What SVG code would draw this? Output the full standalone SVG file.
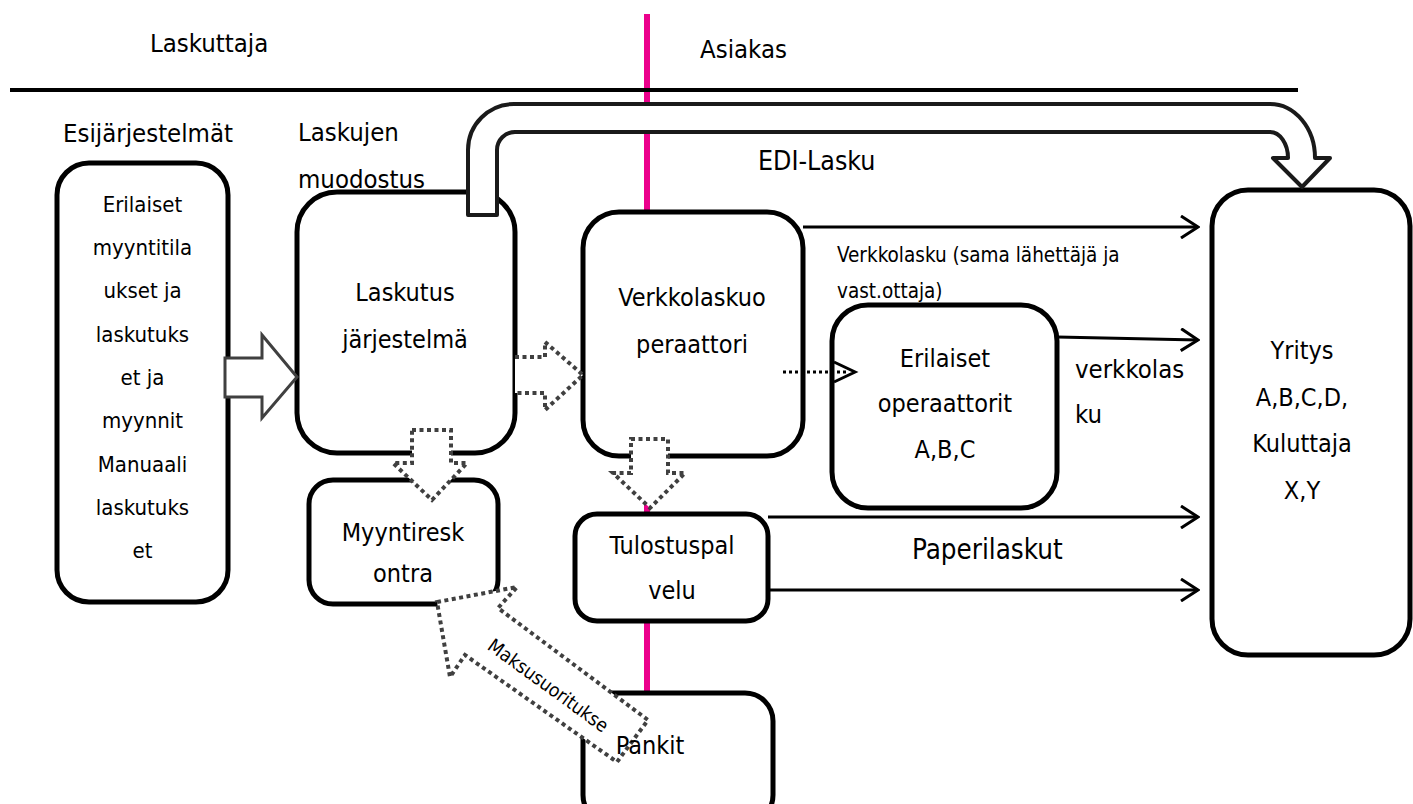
<svg xmlns="http://www.w3.org/2000/svg" width="1413" height="804" viewBox="0 0 1413 804">
<defs>
<style>
text{font-family:"DejaVu Sans Condensed","DejaVu Sans","Liberation Sans",sans-serif;font-stretch:condensed;fill:#000}
.h{font-size:25.5px}
.b{font-size:25px;text-anchor:middle}
.b1{font-size:22px;text-anchor:middle}
.s{font-size:20.5px}
.box{fill:#fff;stroke:#000;stroke-width:5}
.dot{fill:#fff;stroke:#404040;stroke-width:4;stroke-dasharray:4 3.5}
.ln{fill:none;stroke:#000;stroke-width:3}
</style>
<marker id="chev" viewBox="0 0 20 24" refX="18" refY="12" markerWidth="20" markerHeight="24" markerUnits="userSpaceOnUse" orient="auto">
<path d="M1,1 L18,12 L1,23" fill="none" stroke="#000" stroke-width="3"/>
</marker>
</defs>
<rect width="1413" height="804" fill="#fff"/>
<g id="dividers">
<line x1="647" y1="14" x2="647" y2="692" stroke="#EC008C" stroke-width="6"/>
<line x1="10" y1="90" x2="1298" y2="90" stroke="#000" stroke-width="4"/>
</g>
<g id="headers">
<text class="h" x="150" y="52">Laskuttaja</text>
<text class="h" x="700" y="58">Asiakas</text>
<text class="h" x="63" y="142">Esijärjestelmät</text>
<text class="h" x="298" y="141">Laskujen</text>
<text class="h" x="298" y="188">muodostus</text>
</g>
<g id="esijarjestelmat">
<rect class="box" x="57" y="163" width="171" height="439" rx="32"/>
<text class="b1" x="142.5" y="212">Erilaiset</text>
<text class="b1" x="142.5" y="255">myyntitila</text>
<text class="b1" x="142.5" y="298">ukset ja</text>
<text class="b1" x="142.5" y="342">laskutuks</text>
<text class="b1" x="142.5" y="385">et ja</text>
<text class="b1" x="142.5" y="428">myynnit</text>
<text class="b1" x="142.5" y="472">Manuaali</text>
<text class="b1" x="142.5" y="515">laskutuks</text>
<text class="b1" x="142.5" y="558">et</text>
</g>
<g id="laskutus">
<rect class="box" x="297" y="192" width="218" height="261" rx="40"/>
<text class="b" x="405" y="301">Laskutus</text>
<text class="b" x="405" y="348">järjestelmä</text>
</g>
<g id="verkkolaskuoperaattori">
<rect class="box" x="583" y="212" width="220" height="244" rx="36"/>
<text class="b" x="692" y="306">Verkkolaskuo</text>
<text class="b" x="692" y="353">peraattori</text>
</g>
<g id="operaattorit">
<rect class="box" x="832" y="305" width="225" height="203" rx="36"/>
<text class="b" x="945" y="367">Erilaiset</text>
<text class="b" x="945" y="412">operaattorit</text>
<text class="b" x="945" y="458">A,B,C</text>
</g>
<g id="yritys">
<rect class="box" x="1212" y="190" width="198" height="465" rx="36"/>
<text class="b" x="1302" y="359">Yritys</text>
<text class="b" x="1302" y="406">A,B,C,D,</text>
<text class="b" x="1302" y="452">Kuluttaja</text>
<text class="b" x="1302" y="499">X,Y</text>
</g>
<g id="myyntireskontra">
<rect class="box" x="309" y="480" width="189" height="124" rx="24"/>
<text class="b" x="403" y="541">Myyntiresk</text>
<text class="b" x="403" y="582">ontra</text>
</g>
<g id="tulostuspalvelu">
<rect class="box" x="575" y="514" width="193" height="107" rx="22"/>
<text class="b" x="672" y="554">Tulostuspal</text>
<text class="b" x="672" y="599">velu</text>
</g>
<g id="pankit">
<rect class="box" x="583" y="693" width="190" height="130" rx="28"/>
</g>
<g id="connectors">
<path d="M468,215 L468,150 A46,46 0 0 1 514,104 L1270,104 A45,54 0 0 1 1315,158 L1330,158 L1302,187 L1273,158 L1288,158 A18,26 0 0 0 1270,132 L515,132 A18,18 0 0 0 497,150 L497,215 Z" fill="#fff" stroke="#1a1a1a" stroke-width="4" stroke-linejoin="round"/>
<polygon points="225,358 262,358 262,335 297,377 262,418 262,397 225,397" fill="#fff" stroke="#404040" stroke-width="3"/>
<path class="dot" d="M515,357 L545,357 L545,342 L583,375 L545,410 L545,393 L515,393"/>
<polygon class="dot" points="412,430 451,430 451,463 467,463 432,500 393,463 412,463"/>
<polygon class="dot" points="631,439 668,439 668,473 685,473 650,508 613,473 631,473"/>
<polygon class="dot" points="437,602 517,587 498,608 648,720 617,762 465,655 450,677"/>
<line class="ln" x1="803" y1="227" x2="1198" y2="227" marker-end="url(#chev)"/>
<line class="ln" x1="1057" y1="337" x2="1198" y2="340" marker-end="url(#chev)"/>
<line class="ln" x1="768" y1="517" x2="1198" y2="517" marker-end="url(#chev)"/>
<line class="ln" x1="768" y1="590" x2="1198" y2="590" marker-end="url(#chev)"/>
<line x1="783" y1="372" x2="846" y2="372" stroke="#000" stroke-width="3" stroke-dasharray="3 3"/>
<polyline points="834,362 855,372 834,382" fill="none" stroke="#000" stroke-width="3"/>
</g>
<g id="labels">
<text class="b" x="650" y="754">Pankit</text>
<text class="h" x="758" y="170" style="font-size:26.5px">EDI-Lasku</text>
<text class="s" x="837" y="262">Verkkolasku (sama lähettäjä ja</text>
<text class="s" x="837" y="298">vast.ottaja)</text>
<text class="h" x="1075" y="378">verkkolas</text>
<text class="h" x="1075" y="423">ku</text>
<text class="h" x="912" y="559" style="font-size:27.5px">Paperilaskut</text>
<text x="548" y="692" text-anchor="middle" transform="rotate(36 548 686)" style="font-size:19px">Maksusuoritukse</text>
</g>
</svg>
